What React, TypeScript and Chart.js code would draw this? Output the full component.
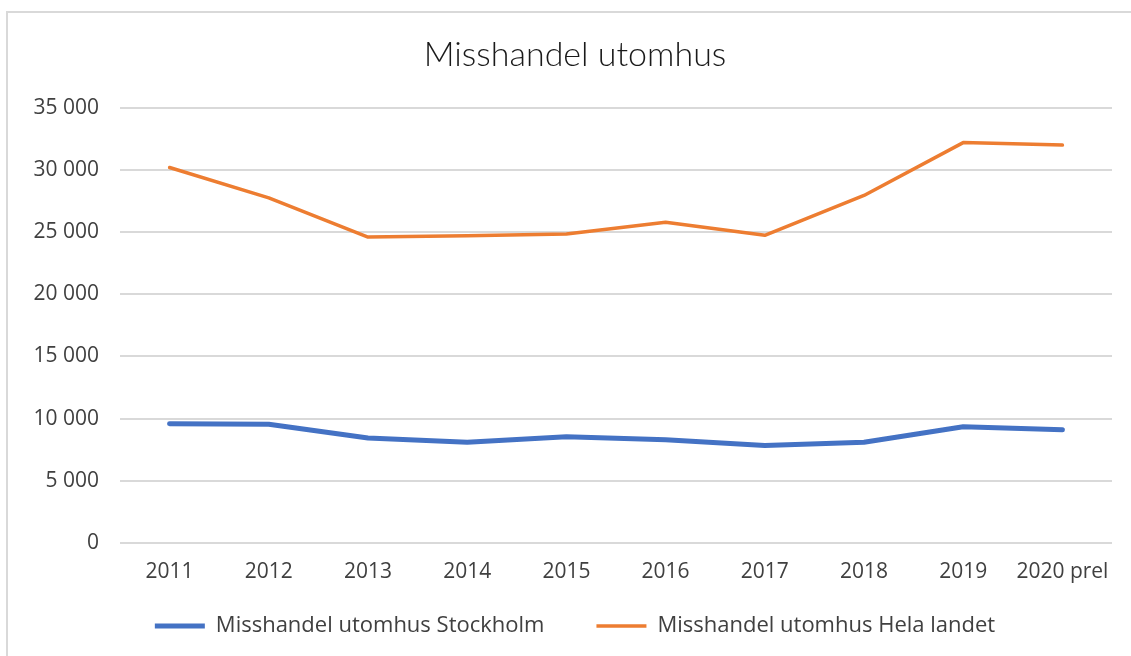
import React, { useEffect, useRef } from "react";
import { Chart, registerables } from "chart.js";

Chart.register(...registerables);

const categories = ["2011", "2012", "2013", "2014", "2015", "2016", "2017", "2018", "2019", "2020 prel"];
const stockholm = [9600, 9550, 8450, 8100, 8550, 8300, 7850, 8100, 9350, 9100];
const helaLandet = [30200, 27750, 24600, 24700, 24850, 25800, 24750, 27950, 32200, 32000];
const seriesNames = ["Misshandel utomhus Stockholm", "Misshandel utomhus Hela landet"];
const titleText = "Misshandel utomhus";

const TITLE_FONT = "Lato, 'Noto Sans', sans-serif";
const FONT = "'Open Sans', 'Noto Sans', sans-serif";

export default function App() {
  const ref = useRef<HTMLCanvasElement | null>(null);
  useEffect(() => {
    if (!ref.current) return;
    const chart = new Chart(ref.current, {
      type: "line",
      data: {
        labels: categories,
        datasets: [
          {
            label: seriesNames[0],
            data: stockholm,
            borderColor: "#4472C4",
            backgroundColor: "#4472C4",
            borderWidth: 5,
            pointRadius: 0,
            borderCapStyle: "round",
            borderJoinStyle: "round",
            tension: 0,
          },
          {
            label: seriesNames[1],
            data: helaLandet,
            borderColor: "#ED7D31",
            backgroundColor: "#ED7D31",
            borderWidth: 3.5,
            pointRadius: 0,
            borderCapStyle: "round",
            borderJoinStyle: "round",
            tension: 0,
          },
        ],
      },
      options: {
        animation: false,
        responsive: false,
        maintainAspectRatio: false,
        layout: { padding: { left: 20, right: 1, top: 0, bottom: 9 } },
        plugins: {
          title: {
            display: true,
            text: titleText,
            color: "#1a1a1a",
            font: { family: TITLE_FONT, size: 34, weight: "300" as any, lineHeight: 1.2 },
            padding: { top: 35, bottom: 32 },
          },
          legend: {
            position: "bottom",
            labels: {
              usePointStyle: true,
              pointStyle: "line",
              pointStyleWidth: 50,
              boxHeight: 22,
              color: "#404040",
              font: { family: FONT, size: 22 },
              padding: 52,
            },
          },
          tooltip: { enabled: false },
        },
        scales: {
          x: {
            offset: true,
            grid: { display: false, drawTicks: false },
            border: { display: false },
            ticks: {
              color: "#404040",
              font: { family: FONT, size: 21 },
              mirror: true,
              padding: -41.6,
              maxRotation: 0,
              autoSkip: false,
            },
            afterFit: (s: any) => { s.height = 20; },
          },
          y: {
            min: 0,
            max: 35000,
            grid: { color: "#d9d9d9", lineWidth: 2, drawTicks: false },
            border: { display: false },
            ticks: {
              stepSize: 5000,
              color: "#404040",
              font: { family: FONT, size: 21 },
              padding: 21,
              callback: (v: any) => {
                const n = Number(v);
                return n.toString().replace(/\B(?=(\d{3})+(?!\d))/g, " ");
              },
            },
            afterFit: (s: any) => { s.width = 100; },
          },
          yR: {
            type: "linear",
            position: "right",
            grid: { display: false, drawTicks: false },
            border: { display: false },
            ticks: { display: false },
            afterFit: (s: any) => { s.width = 18; },
          },
        },
      },
    });
    return () => chart.destroy();
  }, []);

  return (
    <div style={{ position: "fixed", left: 0, top: 0, width: 1131, height: 656, background: "#fff", overflow: "hidden" }}>
      <div
        style={{
          position: "absolute",
          left: 6,
          top: 11,
          width: 1140,
          height: 700,
          border: "2px solid #d9d9d9",
          boxSizing: "border-box",
        }}
      />
      <canvas ref={ref} width={1131} height={656} style={{ position: "absolute", left: 0, top: 0, width: 1131, height: 656 }} />
    </div>
  );
}
